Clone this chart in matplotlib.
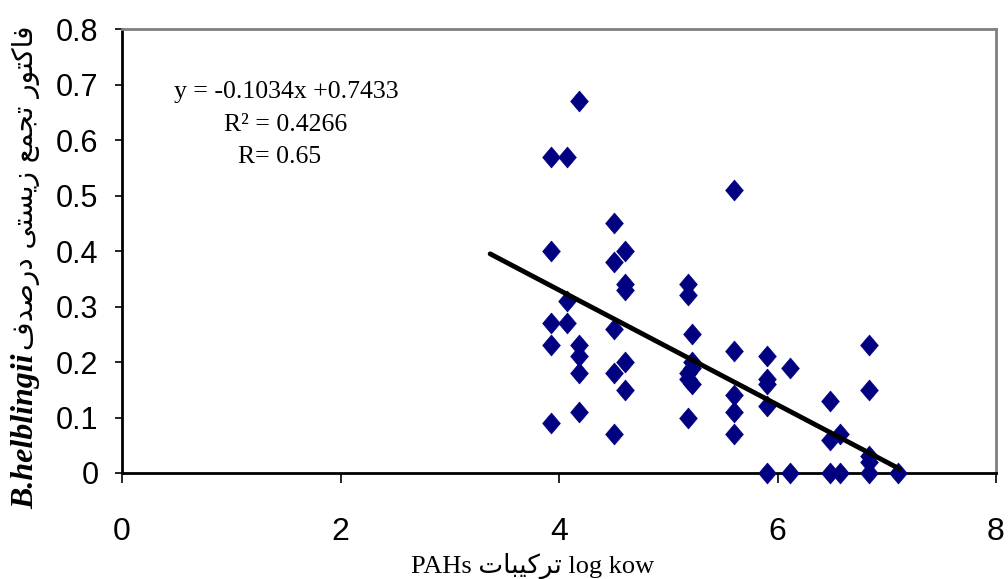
import matplotlib
matplotlib.use("Agg")
import matplotlib.pyplot as plt
from matplotlib.path import Path
import numpy as np

# ---------------- data ----------------
log_kow = [3.93, 3.93, 3.93, 3.93, 3.93,
           4.07, 4.07, 4.07,
           4.18, 4.18, 4.18, 4.18, 4.18,
           4.50, 4.50, 4.50, 4.50, 4.50,
           4.60, 4.60, 4.60, 4.60, 4.60,
           5.18, 5.18, 5.18, 5.18, 5.18,
           5.22, 5.22, 5.22, 5.22,
           5.60, 5.60, 5.60, 5.60, 5.60,
           5.90, 5.90, 5.90, 5.90, 5.90,
           6.11, 6.11,
           6.48, 6.48, 6.48,
           6.57, 6.57,
           6.84, 6.84, 6.84, 6.84, 6.84,
           7.10]
bsaf = [0.57, 0.40, 0.27, 0.23, 0.09,
        0.57, 0.31, 0.27,
        0.67, 0.23, 0.21, 0.18, 0.11,
        0.45, 0.38, 0.26, 0.18, 0.07,
        0.40, 0.34, 0.33, 0.20, 0.15,
        0.34, 0.32, 0.18, 0.17, 0.10,
        0.25, 0.20, 0.19, 0.16,
        0.51, 0.22, 0.14, 0.11, 0.07,
        0.21, 0.17, 0.16, 0.12, 0.00,
        0.19, 0.00,
        0.13, 0.06, 0.00,
        0.07, 0.00,
        0.23, 0.15, 0.03, 0.02, 0.00,
        0.00]
slope = -0.1034
intercept = 0.7433
trend_x = [3.37, 7.12]
x_ticks = [0, 2, 4, 6, 8]
y_ticks = [0, 0.1, 0.2, 0.3, 0.4, 0.5, 0.6, 0.7, 0.8]
y_tick_labels = ["0", "0.1", "0.2", "0.3", "0.4", "0.5", "0.6", "0.7", "0.8"]
eq_lines = ["y = -0.1034x +0.7433", "R\u00b2 = 0.4266", "R= 0.65"]
ylabel_fa = "فاکتور تجمع زیستی درصدف"
ylabel_species = "B.helblingii"
xlabel_fa = "تركيبات"


# ---------------- minimal Arabic/Persian shaping ----------------
FORMS = {
    "ف": ("\uFED1", "\uFED2", "\uFED3", "\uFED4"),
    "ا": ("\uFE8D", "\uFE8E", None, None),
    "ک": ("\uFB8E", "\uFB8F", "\uFB90", "\uFB91"),
    "ك": ("\uFED9", "\uFEDA", "\uFEDB", "\uFEDC"),
    "ت": ("\uFE95", "\uFE96", "\uFE97", "\uFE98"),
    "و": ("\uFEED", "\uFEEE", None, None),
    "ر": ("\uFEAD", "\uFEAE", None, None),
    "ج": ("\uFE9D", "\uFE9E", "\uFE9F", "\uFEA0"),
    "م": ("\uFEE1", "\uFEE2", "\uFEE3", "\uFEE4"),
    "ع": ("\uFEC9", "\uFECA", "\uFECB", "\uFECC"),
    "ز": ("\uFEAF", "\uFEB0", None, None),
    "ی": ("\uFBFC", "\uFBFD", "\uFBFE", "\uFBFF"),
    "ي": ("\uFEF1", "\uFEF2", "\uFEF3", "\uFEF4"),
    "س": ("\uFEB1", "\uFEB2", "\uFEB3", "\uFEB4"),
    "د": ("\uFEA9", "\uFEAA", None, None),
    "ص": ("\uFEB9", "\uFEBA", "\uFEBB", "\uFEBC"),
    "ب": ("\uFE8F", "\uFE90", "\uFE91", "\uFE92"),
}


def dual(ch):
    return ch in FORMS and FORMS[ch][2] is not None


def shape(text):
    out = []
    n = len(text)
    for i, ch in enumerate(text):
        if ch not in FORMS:
            out.append(ch)
            continue
        prev = text[i - 1] if i > 0 else None
        nxt = text[i + 1] if i < n - 1 else None
        jp = prev is not None and dual(prev)
        jn = nxt is not None and nxt in FORMS and dual(ch)
        iso, fin, ini, med = FORMS[ch]
        if jp and jn:
            out.append(med)
        elif jp:
            out.append(fin)
        elif jn:
            out.append(ini)
        else:
            out.append(iso)
    return "".join(out)[::-1]


# ---------------- figure ----------------
fig = plt.figure(figsize=(10.08, 5.79), dpi=100)
W, H = 1008, 579
ax = fig.add_axes([122 / W, 1 - 473 / H, (996 - 122) / W, (473 - 29) / H])

diamond = Path([(0, 1), (0.85, 0), (0, -1), (-0.85, 0), (0, 1)],
               [Path.MOVETO, Path.LINETO, Path.LINETO, Path.LINETO, Path.CLOSEPOLY])
ax.plot(log_kow, bsaf, linestyle="none", marker=diamond, markersize=15,
        color="#000080", markeredgecolor="#000080", markeredgewidth=0.5,
        clip_on=False, zorder=3)

tx = np.array(trend_x)
ax.plot(tx, slope * tx + intercept, color="black", linewidth=3.5,
        solid_capstyle="round", zorder=4, clip_on=False)

ax.set_xlim(0, 8)
ax.set_ylim(0, 0.8)
ax.set_xticks(x_ticks)
ax.set_xticklabels([str(v) for v in x_ticks], fontsize=23, family="Liberation Sans")
ax.set_yticks(y_ticks)
ax.set_yticklabels(y_tick_labels, fontsize=22, family="Liberation Sans")
ax.tick_params(axis="x", direction="out", length=7, width=1.2, pad=25, colors="black")
ax.tick_params(axis="y", direction="out", length=5, width=1.2, pad=12, colors="black")

for side in ("top", "right"):
    ax.spines[side].set_color("#808080")
    ax.spines[side].set_linewidth(2)
for side in ("left", "bottom"):
    ax.spines[side].set_color("black")
    ax.spines[side].set_linewidth(2)

# equation block
eq_y = [92, 125, 157]
eq_x = [286, 286, 280]
for txt, xx, yy in zip(eq_lines, eq_x, eq_y):
    fig.text(xx / W, 1 - yy / H, txt, ha="center", va="center", fontsize=18.5,
             family="Liberation Serif")

# x label
fig.text(533 / W, 1 - 566 / H, "PAHs " + shape(xlabel_fa) + " log kow", ha="center",
         va="center", fontsize=19, family=["Liberation Serif", "DejaVu Sans"])

# y label
fig.text(26 / W, 1 - 431 / H, ylabel_species, rotation=90, ha="center", va="center",
         fontsize=23, family="Liberation Serif", style="italic", weight="bold")
fig.text(26 / W, 1 - 188 / H, shape(ylabel_fa), rotation=90, ha="center",
         va="center", fontsize=20, family="DejaVu Sans")

fig.savefig("out.png", dpi=100)
